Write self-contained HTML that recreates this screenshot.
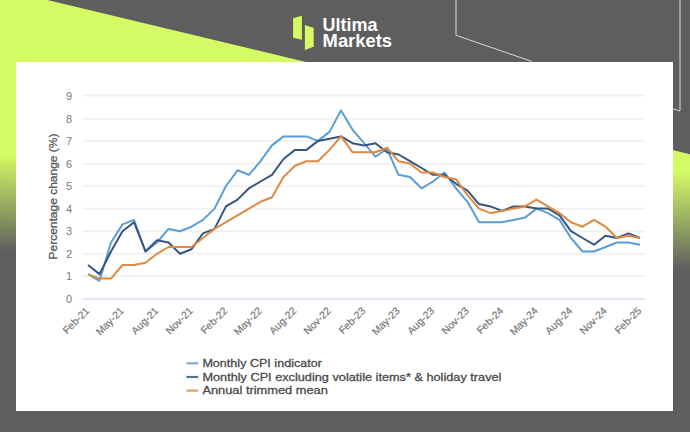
<!DOCTYPE html>
<html><head><meta charset="utf-8"><style>
html,body{margin:0;padding:0;width:690px;height:432px;overflow:hidden;background:#5e5e5e;}
svg{display:block;font-family:"Liberation Sans",sans-serif;}
.t{font-size:11px;fill:#7a7a7a;}
.xl{font-size:10.3px;fill:#787878;stroke:#787878;stroke-width:0.2px;}
</style></head><body>
<svg width="690" height="432" viewBox="0 0 690 432">
<defs>
<linearGradient id="fade" gradientUnits="userSpaceOnUse" x1="0" y1="154" x2="-2.5" y2="252">
<stop offset="0" stop-color="#d4fb64"/><stop offset="1" stop-color="#5e5e5e"/>
</linearGradient>
</defs>
<rect width="690" height="432" fill="#5e5e5e"/>
<polygon points="0,0 47.4,0 690,154.2 690,432 0,432" fill="url(#fade)"/>
<polyline points="456,0 456,35.3 532,61.5" fill="none" stroke="#d8d8d8" stroke-width="1"/>
<polyline points="680,0 680,111 672,108.5" fill="none" stroke="#d8d8d8" stroke-width="1"/>
<g fill="#d4fb64">
<polygon points="293.1,18.3 301.9,15.7 301.9,39.8 293.1,37.7"/>
<polygon points="304.9,25.0 313.7,27.9 313.7,46.7 304.9,50.0"/>
</g>
<text x="322.6" y="30.6" font-size="19" font-weight="bold" fill="#ffffff" textLength="55" lengthAdjust="spacingAndGlyphs">Ultima</text>
<text x="322.6" y="47.4" font-size="18.5" font-weight="bold" fill="#ffffff" textLength="69.4" lengthAdjust="spacingAndGlyphs">Markets</text>
<rect x="16" y="62" width="657" height="349" fill="#ffffff"/>
<line x1="82.3" x2="645.3" y1="276.10" y2="276.10" stroke="#f1f1f1" stroke-width="1.9"/><line x1="82.3" x2="645.3" y1="253.75" y2="253.75" stroke="#f1f1f1" stroke-width="1.9"/><line x1="82.3" x2="645.3" y1="231.30" y2="231.30" stroke="#f1f1f1" stroke-width="1.9"/><line x1="82.3" x2="645.3" y1="208.60" y2="208.60" stroke="#f1f1f1" stroke-width="1.9"/><line x1="82.3" x2="645.3" y1="186.20" y2="186.20" stroke="#f1f1f1" stroke-width="1.9"/><line x1="82.3" x2="645.3" y1="163.80" y2="163.80" stroke="#f1f1f1" stroke-width="1.9"/><line x1="82.3" x2="645.3" y1="140.90" y2="140.90" stroke="#f1f1f1" stroke-width="1.9"/><line x1="82.3" x2="645.3" y1="118.85" y2="118.85" stroke="#f1f1f1" stroke-width="1.9"/><line x1="82.3" x2="645.3" y1="95.50" y2="95.50" stroke="#f1f1f1" stroke-width="1.9"/>
<line x1="82.3" x2="645.3" y1="298.9" y2="298.9" stroke="#dce3f0" stroke-width="1.8"/>
<text x="72" y="302.9" text-anchor="end" class="t">0</text><text x="72" y="280.1" text-anchor="end" class="t">1</text><text x="72" y="257.8" text-anchor="end" class="t">2</text><text x="72" y="235.3" text-anchor="end" class="t">3</text><text x="72" y="212.6" text-anchor="end" class="t">4</text><text x="72" y="190.2" text-anchor="end" class="t">5</text><text x="72" y="167.8" text-anchor="end" class="t">6</text><text x="72" y="144.9" text-anchor="end" class="t">7</text><text x="72" y="122.8" text-anchor="end" class="t">8</text><text x="72" y="99.5" text-anchor="end" class="t">9</text><text transform="translate(90.0 311.5) rotate(-45)" text-anchor="end" class="xl">Feb-21</text><text transform="translate(124.5 311.5) rotate(-45)" text-anchor="end" class="xl">May-21</text><text transform="translate(159.0 311.5) rotate(-45)" text-anchor="end" class="xl">Aug-21</text><text transform="translate(193.5 311.5) rotate(-45)" text-anchor="end" class="xl">Nov-21</text><text transform="translate(228.0 311.5) rotate(-45)" text-anchor="end" class="xl">Feb-22</text><text transform="translate(262.5 311.5) rotate(-45)" text-anchor="end" class="xl">May-22</text><text transform="translate(297.0 311.5) rotate(-45)" text-anchor="end" class="xl">Aug-22</text><text transform="translate(331.5 311.5) rotate(-45)" text-anchor="end" class="xl">Nov-22</text><text transform="translate(366.0 311.5) rotate(-45)" text-anchor="end" class="xl">Feb-23</text><text transform="translate(400.5 311.5) rotate(-45)" text-anchor="end" class="xl">May-23</text><text transform="translate(435.0 311.5) rotate(-45)" text-anchor="end" class="xl">Aug-23</text><text transform="translate(469.5 311.5) rotate(-45)" text-anchor="end" class="xl">Nov-23</text><text transform="translate(504.0 311.5) rotate(-45)" text-anchor="end" class="xl">Feb-24</text><text transform="translate(538.5 311.5) rotate(-45)" text-anchor="end" class="xl">May-24</text><text transform="translate(573.0 311.5) rotate(-45)" text-anchor="end" class="xl">Aug-24</text><text transform="translate(607.5 311.5) rotate(-45)" text-anchor="end" class="xl">Nov-24</text><text transform="translate(642.0 311.5) rotate(-45)" text-anchor="end" class="xl">Feb-25</text>
<text transform="translate(57.2 196.5) rotate(-90)" text-anchor="middle" font-size="11.5" font-weight="normal" fill="#595959" stroke="#595959" stroke-width="0.3" textLength="126" lengthAdjust="spacingAndGlyphs">Percentage change (%)</text>
<g fill="none" stroke-width="2" stroke-linejoin="round">
<path d="M88.0 274.1 L99.5 280.8 L111.0 242.5 L122.5 224.4 L134.0 219.9 L145.5 251.5 L157.0 242.5 L168.5 228.9 L180.0 231.2 L191.5 226.7 L203.0 219.9 L214.5 208.6 L226.0 186.0 L237.5 170.3 L249.0 174.8 L260.5 161.2 L272.0 145.4 L283.5 136.4 L295.0 136.4 L306.5 136.4 L318.0 140.9 L329.5 131.9 L341.0 110.4 L352.5 129.6 L364.0 143.2 L375.5 156.7 L387.0 148.8 L398.5 174.8 L410.0 177.0 L421.5 188.3 L433.0 181.5 L444.5 172.5 L456.0 188.3 L467.5 201.8 L479.0 222.2 L490.5 222.2 L502.0 222.2 L513.5 219.9 L525.0 217.6 L536.5 208.6 L548.0 213.1 L559.5 219.9 L571.0 238.0 L582.5 251.5 L594.0 251.5 L605.5 247.0 L617.0 242.5 L628.5 242.5 L640.0 244.7" stroke="#5b9dd6"/>
<path d="M88.0 265.0 L99.5 274.1 L111.0 251.5 L122.5 231.2 L134.0 222.2 L145.5 251.5 L157.0 240.2 L168.5 242.5 L180.0 253.8 L191.5 249.2 L203.0 233.4 L214.5 228.9 L226.0 206.4 L237.5 199.6 L249.0 188.3 L260.5 181.5 L272.0 174.8 L283.5 159.0 L295.0 149.9 L306.5 149.9 L318.0 140.9 L329.5 138.7 L341.0 136.4 L352.5 143.2 L364.0 145.4 L375.5 143.2 L387.0 152.2 L398.5 154.5 L410.0 161.2 L421.5 168.0 L433.0 174.8 L444.5 174.8 L456.0 183.8 L467.5 190.6 L479.0 204.1 L490.5 206.4 L502.0 210.9 L513.5 206.4 L525.0 206.4 L536.5 208.6 L548.0 208.6 L559.5 215.4 L571.0 231.2 L582.5 238.0 L594.0 244.7 L605.5 235.7 L617.0 238.0 L628.5 233.4 L640.0 238.0" stroke="#36567f"/>
<path d="M88.0 274.1 L99.5 278.6 L111.0 278.6 L122.5 265.0 L134.0 265.0 L145.5 262.8 L157.0 253.8 L168.5 247.0 L180.0 247.0 L191.5 247.0 L203.0 238.0 L214.5 228.9 L226.0 222.2 L237.5 215.4 L249.0 208.6 L260.5 201.8 L272.0 197.3 L283.5 177.0 L295.0 165.7 L306.5 161.2 L318.0 161.2 L329.5 149.9 L341.0 136.4 L352.5 152.2 L364.0 152.2 L375.5 152.2 L387.0 147.7 L398.5 161.2 L410.0 163.5 L421.5 172.5 L433.0 172.5 L444.5 177.0 L456.0 179.3 L467.5 195.1 L479.0 208.6 L490.5 213.1 L502.0 210.9 L513.5 208.6 L525.0 206.4 L536.5 199.6 L548.0 206.4 L559.5 213.1 L571.0 222.2 L582.5 226.7 L594.0 219.9 L605.5 226.7 L617.0 238.0 L628.5 235.7 L640.0 238.0" stroke="#de8a42"/>
</g>
<g stroke-width="2.2">
<line x1="186.4" x2="198.2" y1="363.3" y2="363.3" stroke="#7ab0de"/>
<line x1="186.4" x2="198.2" y1="377" y2="377" stroke="#56709a"/>
<line x1="186.4" x2="198.2" y1="390.6" y2="390.6" stroke="#e29d5f"/>
</g>
<g font-size="11.2" fill="#4a4a4a" stroke="#4a4a4a" stroke-width="0.3">
<text x="202.4" y="367" textLength="119.5" lengthAdjust="spacingAndGlyphs">Monthly CPI indicator</text>
<text x="202.4" y="380.5" textLength="299" lengthAdjust="spacingAndGlyphs">Monthly CPI excluding volatile items* &amp; holiday travel</text>
<text x="202.4" y="394" textLength="125.5" lengthAdjust="spacingAndGlyphs">Annual trimmed mean</text>
</g>
</svg>
</body></html>
